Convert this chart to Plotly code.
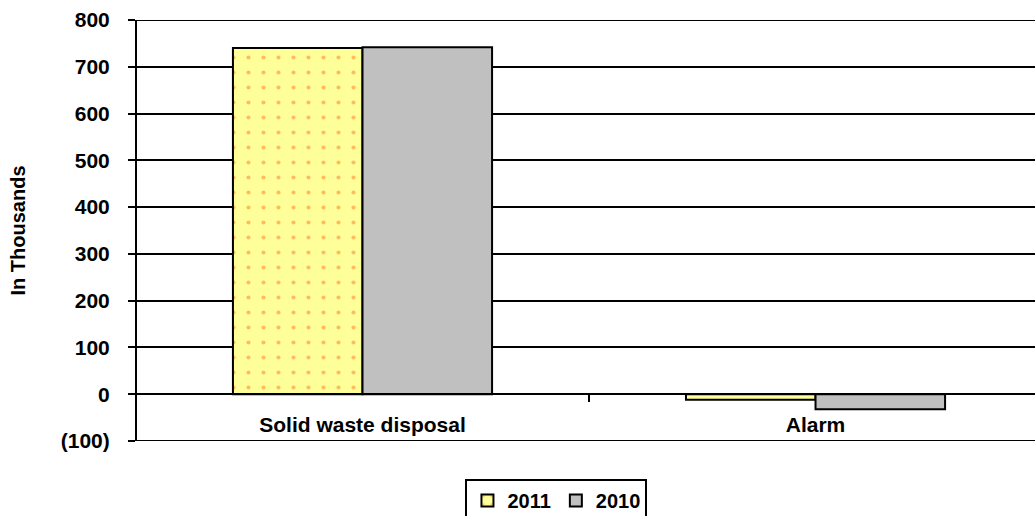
import plotly.graph_objects as go

categories = ["Solid waste disposal", "Alarm"]
values_2011 = [740, -12]
values_2010 = [742, -32]
y_tickvals = [-100, 0, 100, 200, 300, 400, 500, 600, 700, 800]
y_ticktext = ["(100)", "0", "100", "200", "300", "400", "500", "600", "700", "800"]

FAM = "Liberation Sans, Arial, sans-serif"

fig = go.Figure()
fig.add_trace(go.Bar(
    name="<b>2011</b>", x=categories, y=values_2011,
    marker=dict(color="#FFFF99", line=dict(color="black", width=2),
                pattern=dict(shape=".", fgcolor="#FF7722", bgcolor="#FFFF99",
                             size=15, solidity=0.06)),
))
fig.add_trace(go.Bar(
    name="<b>2010</b>", x=categories, y=values_2010,
    marker=dict(color="#C0C0C0", line=dict(color="black", width=2)),
))

ymin, ymax = min(y_tickvals), max(y_tickvals)

fig.update_layout(
    width=1035, height=516,
    margin=dict(l=136, r=0, t=20, b=75, autoexpand=False),
    paper_bgcolor="white", plot_bgcolor="white",
    barmode="group", bargap=0.428, bargroupgap=0,
    font=dict(family=FAM, size=20, color="black"),
    showlegend=True,
    legend=dict(orientation="h", x=0.4677, xanchor="center", y=-0.09, yanchor="top",
                bordercolor="black", borderwidth=2, bgcolor="white",
                font=dict(family=FAM, size=20, color="black"),
                itemwidth=30, traceorder="normal"),
    xaxis=dict(
        type="category", range=[-0.5, 1.4845],
        anchor="free", position=1/9,
        showline=True, linecolor="black", linewidth=2,
        ticks="outside", ticklen=7, tickwidth=2, tickcolor="black",
        tickson="boundaries", showgrid=False,
        ticklabelstandoff=12,
        tickfont=dict(family=FAM, size=21, color="black", weight="bold"),
    ),
    yaxis=dict(
        range=[ymin, ymax], tickvals=y_tickvals, ticktext=y_ticktext,
        anchor="free", position=0,
        showline=True, linecolor="black", linewidth=2,
        ticks="outside", ticklen=7, tickwidth=2, tickcolor="black",
        showgrid=True, gridcolor="black", gridwidth=2,
        zeroline=True, zerolinecolor="black", zerolinewidth=2,
        ticklabelstandoff=14,
        tickfont=dict(family=FAM, size=21, color="black", weight="bold"),
    ),
    shapes=[
        dict(type="line", xref="x domain", yref="y", x0=0, x1=1, y0=ymin, y1=ymin,
             line=dict(color="black", width=2)),
        dict(type="line", xref="x domain", yref="y", x0=0, x1=1, y0=ymax, y1=ymax,
             line=dict(color="black", width=2)),
    ],
    annotations=[dict(
        text="<b>In Thousands</b>", textangle=-90, showarrow=False,
        xref="paper", yref="paper", x=(17 - 136) / 899, y=0.5,
        xanchor="center", yanchor="middle",
        font=dict(family=FAM, size=20, color="black"),
    )],
)

fig.write_html("out.html")
